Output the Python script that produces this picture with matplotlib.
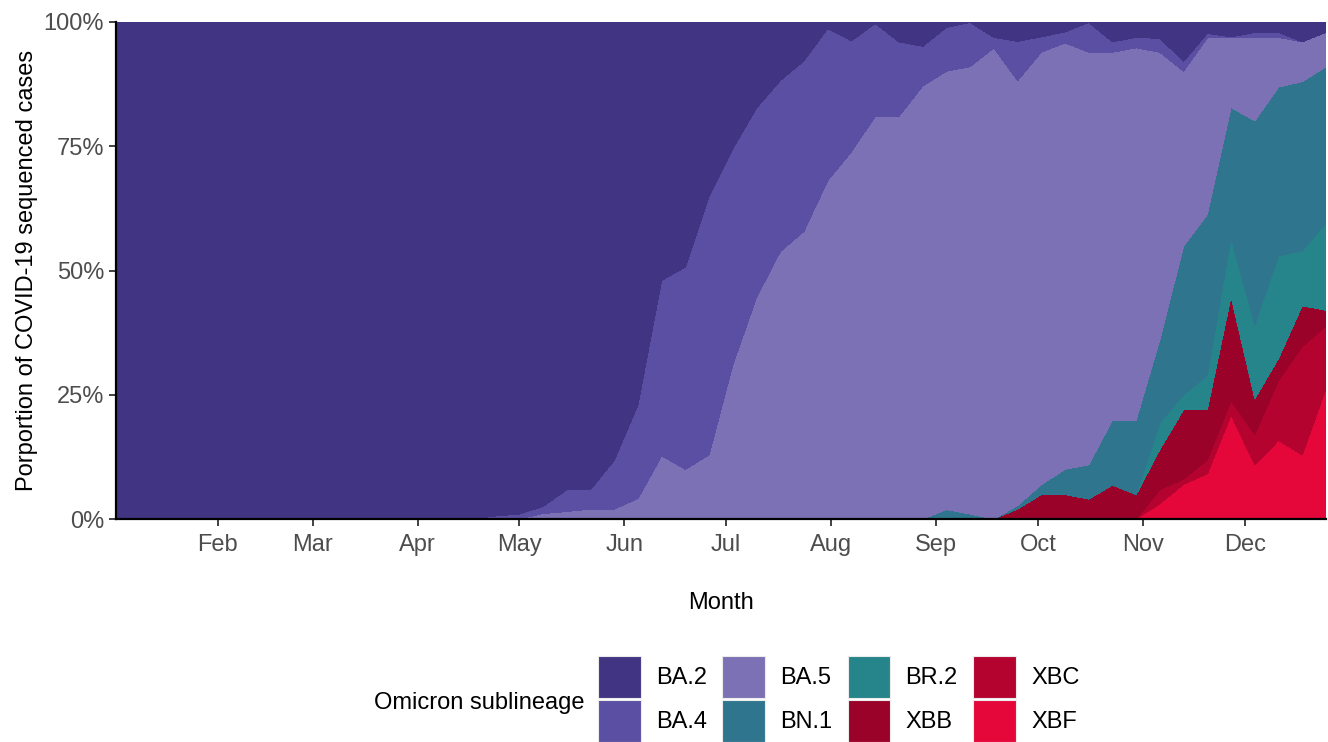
import matplotlib
matplotlib.use("Agg")
import matplotlib.pyplot as plt
import matplotlib.dates as mdates
from matplotlib.patches import Patch
from matplotlib.ticker import FuncFormatter
import pandas as pd

plt.rcParams['font.family'] = ['Liberation Sans', 'DejaVu Sans']

# weekly proportions (%), 2022
weeks = pd.date_range('2022-01-02', periods=52, freq='7D')

lineages = ['BA.2', 'BA.4', 'BA.5', 'BN.1', 'BR.2', 'XBB', 'XBC', 'XBF']
colors = ['#413583', '#5B4FA4', '#7C71B4', '#2E758D', '#26848B', '#9A0229', '#B4032F', '#E5073A']

ba2 = [100] * 16 + [99.4, 99.0, 97.5, 94.1, 94.1, 88.2, 77.1, 52.0, 49.3, 35.0,
                    25.5, 17.3, 11.8, 7.8, 1.3, 3.8, 0.3, 4.0, 4.9, 1.1,
                    0.1, 3.1, 3.9, 3.0, 2.0, 0.1, 4.0, 3.1, 3.3, 7.9,
                    2.3, 3.0, 2.1, 2.1, 4.0, 2.1]
ba4 = [0] * 16 + [0.6, 1.0, 1.4, 4.4, 3.9, 9.8, 18.8, 35.3, 40.7, 52.1,
                  43.5, 38.1, 34.4, 34.3, 30.6, 22.3, 18.7, 15.0, 8.0, 8.8,
                  8.9, 2.1, 7.9, 3.1, 2.2, 6.0, 2.1, 2.1, 2.8, 2.0,
                  0.9, 0.1, 1.0, 1.0, 0, 0]
ba5 = [0] * 18 + [1.1, 1.5, 2.0, 2.0, 4.1, 12.7, 10.0, 12.9, 31.0, 44.6,
                  53.8, 57.9, 68.1, 73.9, 81.0, 81.0, 87.1, 88.2, 90.0, 94.8,
                  85.5, 87.0, 85.8, 83.0, 74.0, 74.9, 57.8, 35.2, 35.5, 14.1,
                  16.8, 10.0, 8.0, 6.9]
bn1 = [0] * 35 + [1.9, 1.0, 0, 0.7, 2.0, 5.1, 6.9, 13.1, 15.0, 16.7,
                  29.9, 32.4, 26.3, 41.0, 34.0, 34.0, 31.4]
br2 = [0] * 44 + [5.4, 3.0, 6.9, 11.8, 14.9, 20.6, 11.1, 17.6]
xbb = [0] * 38 + [2.0, 4.9, 4.9, 4.0, 6.8, 4.9, 8.1, 14.0, 10.1, 20.9,
                  7.2, 4.4, 8.2, 3.2]
xbc = [0] * 44 + [2.8, 1.0, 2.8, 2.9, 6.1, 12.1, 21.8, 12.6]
xbf = [0] * 44 + [3.1, 7.0, 9.1, 20.9, 10.9, 15.8, 12.9, 26.2]

series = [ba2, ba4, ba5, bn1, br2, xbb, xbc, xbf]

fig = plt.figure(figsize=(13.28, 7.42), dpi=100)
ax = fig.add_axes([116 / 1328, 1 - 519 / 742, 1210 / 1328, 497 / 742])

# first lineage on top, like ggplot's stacking
ax.stackplot(weeks, series[::-1], colors=colors[::-1], linewidth=0, antialiased=False)

ax.set_xlim(weeks[0], weeks[-1])
ax.set_ylim(0, 100)
ax.set_yticks([0, 25, 50, 75, 100])
ax.yaxis.set_major_formatter(FuncFormatter(lambda v, p: '{:.0f}%'.format(v)))
ax.xaxis.set_major_locator(mdates.MonthLocator(bymonth=range(2, 13)))
ax.xaxis.set_major_formatter(mdates.DateFormatter('%b'))

ax.tick_params(axis='both', labelsize=17, labelcolor='#4D4D4D', color='#333333',
               length=5, width=1.3)
ax.tick_params(axis='x', pad=6)
for side in ['top', 'right']:
    ax.spines[side].set_visible(False)
for side in ['left', 'bottom']:
    ax.spines[side].set_linewidth(1.6)
    ax.spines[side].set_color('black')

ax.set_xlabel('Month', fontsize=17, labelpad=26)
ax.set_ylabel('Porportion of COVID-19 sequenced cases', fontsize=17, labelpad=4)

handles = [Patch(facecolor=c, edgecolor='#EBEBEB', linewidth=0.8) for c in colors]
fig.legend(handles, lineages, ncol=4, loc='upper left',
           bbox_to_anchor=(598 / 1328, 1 - 656 / 742), frameon=False,
           fontsize=17, borderpad=0, borderaxespad=0, handlelength=1.82,
           handleheight=2.36, handletextpad=0.64, labelspacing=0.08,
           columnspacing=0.64)
fig.text(585 / 1328, 1 - 703 / 742, 'Omicron sublineage', fontsize=17,
         ha='right', va='center')

fig.savefig('out.png', dpi=100)
